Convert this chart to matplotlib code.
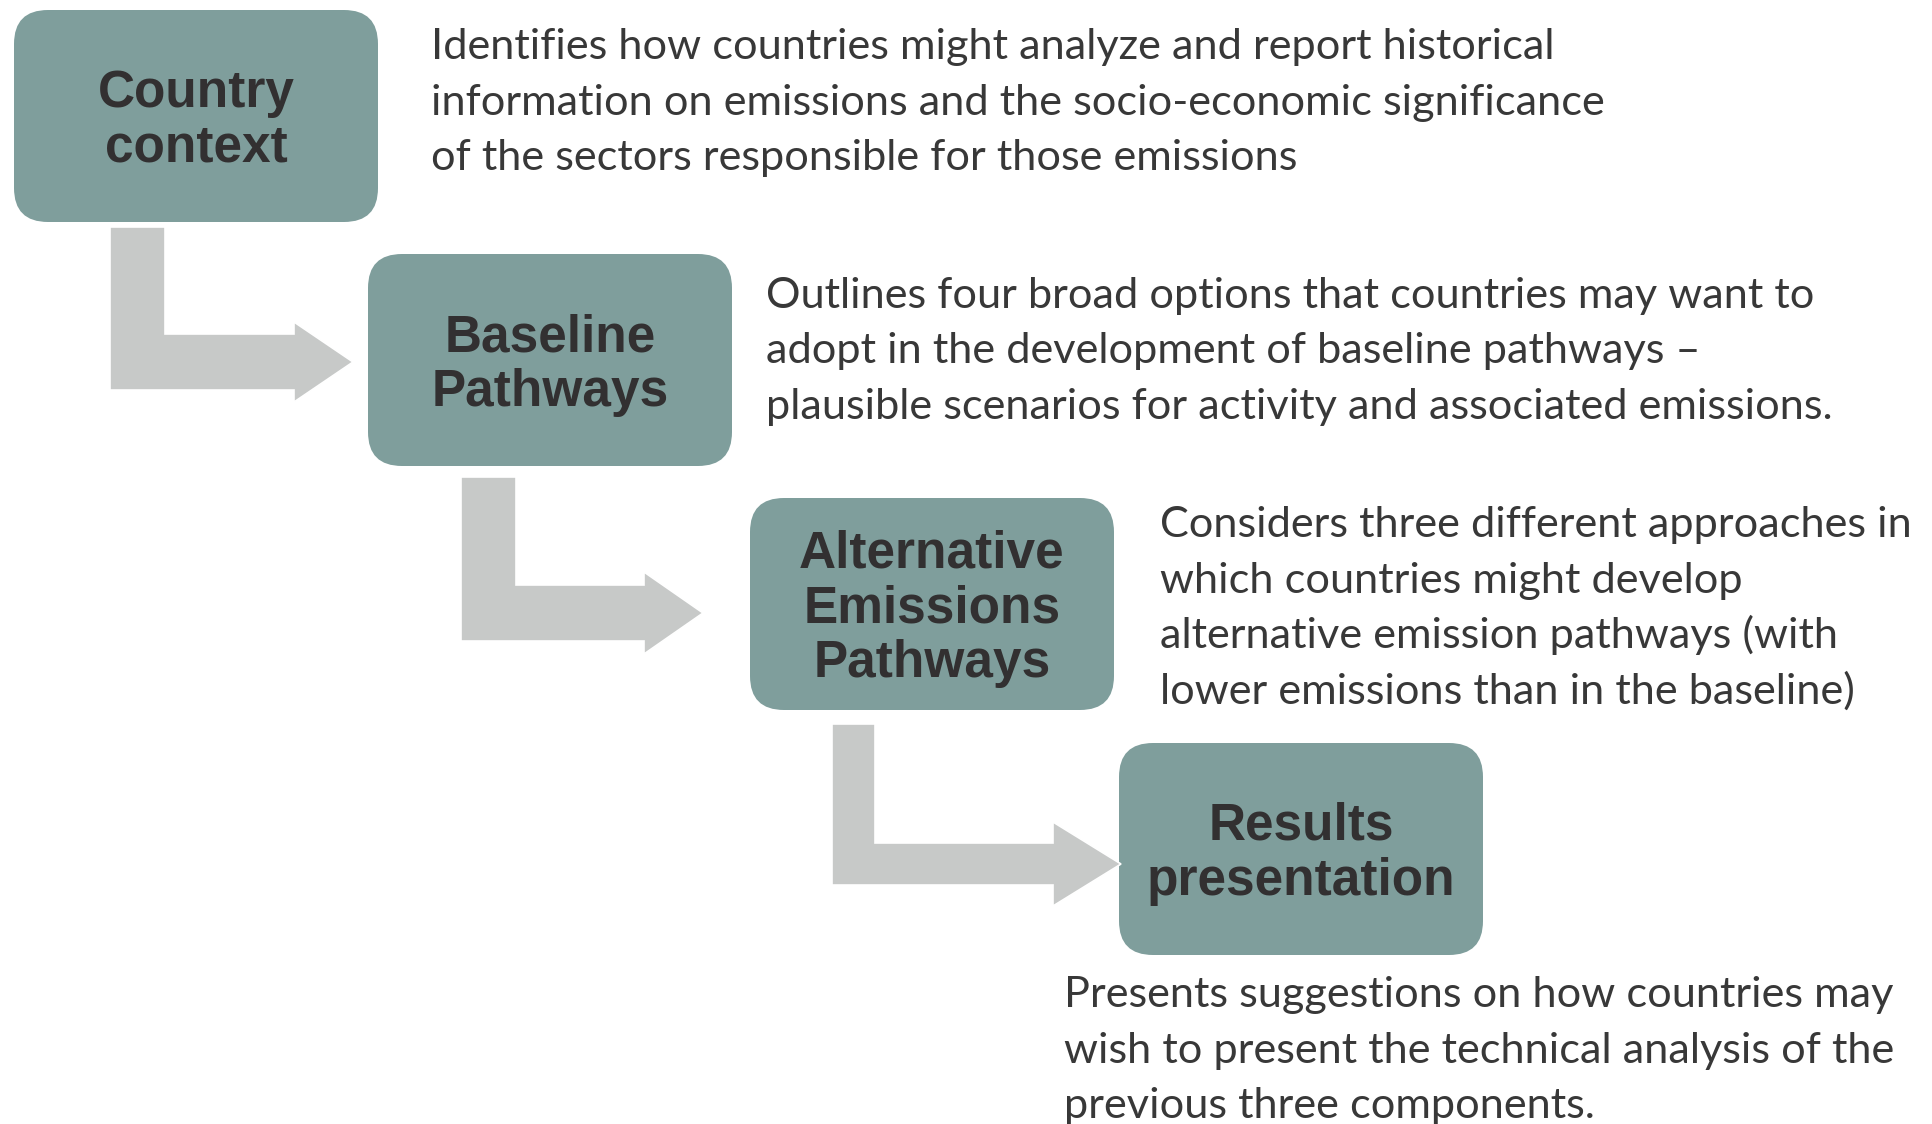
import matplotlib
matplotlib.use("Agg")
import matplotlib.pyplot as plt
from matplotlib.patches import FancyBboxPatch, Polygon

# step titles and their descriptions
titles = ["Country\ncontext", "Baseline\nPathways",
          "Alternative\nEmissions\nPathways", "Results\npresentation"]
descriptions = [
    ["Identifies how countries might analyze and report historical",
     "information on emissions and the socio-economic significance",
     "of the sectors responsible for those emissions"],
    ["Outlines four broad options that countries may want to",
     "adopt in the development of baseline pathways \u2013",
     "plausible scenarios for activity and associated emissions."],
    ["Considers three different approaches in",
     "which countries might develop",
     "alternative emission pathways (with",
     "lower emissions than in the baseline)"],
    ["Presents suggestions on how countries may",
     "wish to present the technical analysis of the",
     "previous three components."],
]

# layout (pixels, y downward)
box_x = [14, 368, 750, 1119]
box_y = [10, 254, 498, 743]
box_w, box_h = 364, 212
desc_x = [431, 766, 1160, 1064]
desc_y = [59, 308, 537, 1007]
# arrows: stem x0, x1, stem top, bar y0, bar y1, head base x, tip x, head half height
arrows = [(110, 165, 227, 334, 390, 294, 353, 40),
          (461, 516, 477, 585, 641, 644, 703, 41),
          (832, 875, 724, 843, 885, 1053, 1121, 42)]

BOX = "#7f9e9c"
ARROW = "#c7c9c8"
BOXTXT = "#323031"
TXT = "#383838"

W, H = 1932, 1124
fig = plt.figure(figsize=(W / 100, H / 100), dpi=100)
ax = fig.add_axes([0, 0, 1, 1])
ax.set_xlim(0, W)
ax.set_ylim(H, 0)
ax.axis("off")

for i, t in enumerate(titles):
    ax.add_patch(FancyBboxPatch((box_x[i], box_y[i]), box_w, box_h,
                                boxstyle="round,pad=0,rounding_size=34",
                                fc=BOX, ec="none", zorder=2))
    lines = t.split("\n")
    n = len(lines)
    cap, sp = 37, 55
    cy = box_y[i] + box_h / 2
    for k, ln in enumerate(lines):
        base = cy - ((n - 1) * sp + cap) / 2 + cap + k * sp
        ax.text(box_x[i] + box_w / 2, base, ln, ha="center", va="baseline",
                fontsize=37, fontweight="bold", family="Liberation Sans",
                color=BOXTXT, zorder=4)

for (sx0, sx1, top, by0, by1, hx, tip, hh) in arrows:
    ty = (by0 + by1) / 2
    pts = [(sx0, top), (sx1, top), (sx1, by0), (hx, by0), (hx, ty - hh),
           (tip, ty), (hx, ty + hh), (hx, by1), (sx0, by1)]
    ax.add_patch(Polygon(pts, closed=True, fc=ARROW, ec="white", lw=1.2,
                         zorder=3))

# fit description font size to the width of the first line
probe = ax.text(0, 0, descriptions[0][0], family="Lato", fontsize=30)
fig.canvas.draw()
w = probe.get_window_extent(fig.canvas.get_renderer()).width
probe.remove()
dsize = 30 * 1123 / w

for i, lines in enumerate(descriptions):
    for k, ln in enumerate(lines):
        ax.text(desc_x[i], desc_y[i] + k * 55.5, ln, ha="left", va="baseline",
                family="Lato", fontsize=dsize, color=TXT, zorder=4)

fig.savefig("out.png", dpi=100, facecolor="white")
